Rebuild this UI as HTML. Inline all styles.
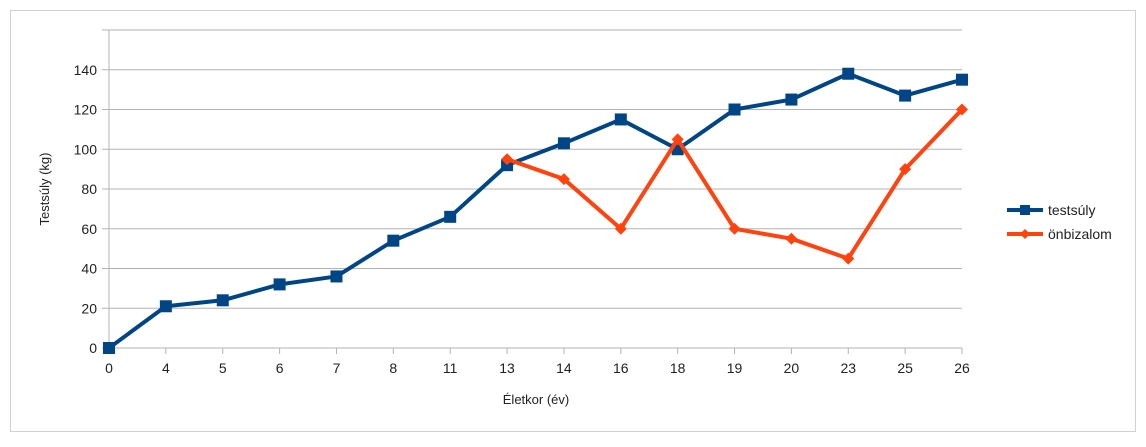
<!DOCTYPE html>
<html><head><meta charset="utf-8"><style>
body{margin:0;background:#fff;font-family:"Liberation Sans",sans-serif}
svg text{font-family:"Liberation Sans",sans-serif;fill:#222}
</style></head><body>
<svg width="1146" height="442" id="chart">
<rect x="10.5" y="10.5" width="1125" height="421" fill="#fff" stroke="#d0d0d0"/>
<g id="grid"></g><g id="axes"></g><g id="series"></g>
<text x="536" y="404" text-anchor="middle" font-size="13">Életkor (év)</text>
<text transform="translate(49,189) rotate(-90)" text-anchor="middle" font-size="13">Testsúly (kg)</text>
<g>
<g>
<line x1="1007" y1="210" x2="1043" y2="210" stroke="#004586" stroke-width="4"/>
<rect x="1020" y="205" width="10" height="10" fill="#004586"/>
<text x="1048" y="215" font-size="14">testsúly</text></g>
<g>
<line x1="1007" y1="234" x2="1043" y2="234" stroke="#ff420e" stroke-width="4"/>
<polygon points="1025,229 1030,234 1025,239 1020,234" fill="#ff420e"/>
<text x="1048" y="239" font-size="14">önbizalom</text></g>
</g>
</svg>
<script>
const categories=["0","4","5","6","7","8","11","13","14","16","18","19","20","23","25","26"];
const testsuly=[0,21,24,32,36,54,66,92,103,115,100,120,125,138,127,135];
const onbizalom=[null,null,null,null,null,null,null,95,85,60,105,60,55,45,90,120];
const yTicks=[0,20,40,60,80,100,120,140,160];
const NS="http://www.w3.org/2000/svg";
const x0=109,x1=962,yb=348,yt=30,yMax=160;
const xs=i=>x0+i*(x1-x0)/(categories.length-1);
const ys=v=>yb-v*(yb-yt)/yMax;
function mk(t,a,p){const e=document.createElementNS(NS,t);for(const k in a)e.setAttribute(k,a[k]);p.appendChild(e);return e;}
const grid=document.getElementById('grid'),axes=document.getElementById('axes'),ser=document.getElementById('series');
yTicks.forEach(v=>{
 const l=mk('line',{x1:102,x2:x1,y1:ys(v),y2:ys(v),stroke:'#b3b3b3','stroke-width':1},grid);
 
 
 if(v<160){const t=mk('text',{x:97,y:ys(v)+5,'text-anchor':'end','font-size':14},axes);t.textContent=v;
 
 }
});
const ax=mk('line',{x1:x0,x2:x0,y1:yt,y2:yb+6,stroke:'#b3b3b3'},axes);


categories.forEach((c,i)=>{
 const tk=mk('line',{x1:xs(i),x2:xs(i),y1:yb,y2:yb+6,stroke:'#b3b3b3'},axes);
 
 
 const t=mk('text',{x:xs(i),y:yb+25,'text-anchor':'middle','font-size':14},axes);t.textContent=c;
 
 
});
function draw(arr,color,name,marker){
 const pts=[];arr.forEach((v,i)=>{if(v!=null)pts.push([xs(i),ys(v)]);});
 const pl=mk('polyline',{points:pts.map(p=>p.join(',')).join(' '),fill:'none',stroke:color,'stroke-width':4,'stroke-linejoin':'round'},ser);
 
 
 pts.forEach(([x,y],k)=>{
  let m;
  if(marker==='sq')m=mk('rect',{x:x-6,y:y-6,width:12,height:12,fill:color},ser);
  else m=mk('polygon',{points:`${x},${y-6} ${x+6},${y} ${x},${y+6} ${x-6},${y}`,fill:color},ser);
  
  
 });
}
draw(testsuly,'#004586','testsuly','sq');
draw(onbizalom,'#ff420e','onbizalom','dia');
</script>
</body></html>
